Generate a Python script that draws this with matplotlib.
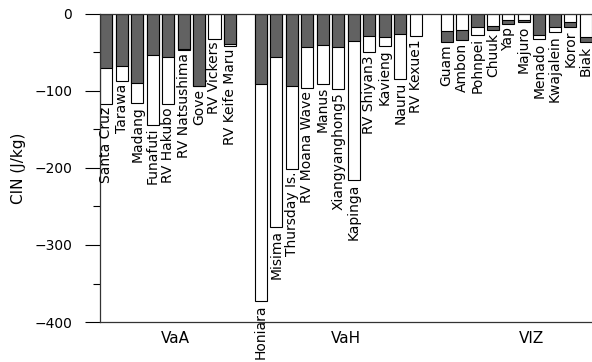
import matplotlib
matplotlib.use("Agg")
import matplotlib.pyplot as plt
import numpy as np

groups = ["VaA", "VaH", "VIZ"]
stations_vaa = ["Santa Cruz", "Tarawa", "Madang", "Funafuti", "RV Hakubo",
                "RV Natsushima", "Gove", "RV Vickers", "RV Keife Maru"]
dark_vaa = [-70, -67, -89, -53, -56, -45, -93, 0, -39]
white_vaa = [-117, -87, -116, -144, -117, -47, -94, -32, -41]

stations_vah = ["Honiara", "Misima", "Thursday Is.", "RV Moana Wave", "Manus",
                "Xiangyanghong5", "Kapinga", "RV Shiyan3", "Kavieng", "Nauru",
                "RV Kexue1"]
dark_vah = [-91, -56, -93, -43, -40, -43, -35, -28, -30, -26, 0]
white_vah = [-373, -277, -201, -96, -91, -98, -216, -50, -42, -84, -29]

stations_viz = ["Guam", "Ambon", "Pohnpei", "Chuuk", "Yap", "Majuro",
                "Menado", "Kwajalein", "Koror", "Biak"]
dark_viz = [-36, -34, -17, -21, -13, -11, -27, -17, -17, -37]
white_viz = [-22, -21, -27, -16, -8, -8, -33, -24, -10, -30]

group_label_pos = [4.5, 15.5, 27.5]
yticks = [0, -100, -200, -300, -400]

stations = []
darks = []
whites = []
pos = []
p = 0
for st, dk, wt in [(stations_vaa, dark_vaa, white_vaa),
                   (stations_vah, dark_vah, white_vah),
                   (stations_viz, dark_viz, white_viz)]:
    for s, d, w in zip(st, dk, wt):
        stations.append(s); darks.append(d); whites.append(w); pos.append(p)
        p += 1
    p += 1

fig = plt.figure(figsize=(5.92, 3.62), dpi=100)
ax = fig.add_axes([100/592, 1 - 322/362, 1 - 100/592, (322 - 14)/362])

width = 0.78
dark_col = "#626262"
for x, d, w, s in zip(pos, darks, whites, stations):
    bars = [(w, "white"), (d, dark_col)]
    bars.sort(key=lambda t: t[0])  # larger magnitude drawn first
    for val, col in bars:
        if val != 0:
            ax.bar(x, val, width=width, color=col, edgecolor="black",
                   linewidth=0.8, zorder=2)
    low = min(d, w)
    ax.text(x, low - 4, s, rotation=90, ha="center", va="top",
            fontsize=10, clip_on=False)

ax.set_xlim(-0.4, pos[-1] + 0.4)
ax.set_ylim(-400, 0)
ax.set_yticks(yticks)
ax.set_yticklabels([str(t) if t == 0 else "\u2212" + str(-t) for t in yticks])
ax.set_yticks(np.arange(-350, 0, 100), minor=True)
ax.tick_params(axis="y", which="major", length=11, width=0.8, labelsize=10, pad=9)
ax.tick_params(axis="y", which="minor", length=5, width=0.8)
ax.set_xticks([])
ax.spines["right"].set_visible(False)
for sp in ["left", "bottom", "top"]:
    ax.spines[sp].set_linewidth(0.9)
    ax.spines[sp].set_color("#333333")
ax.set_ylabel("CIN (J/kg)", fontsize=11, labelpad=6)

for g, gx in zip(groups, group_label_pos):
    ax.text(gx, -412, g, ha="center", va="top", fontsize=11,
            transform=ax.transData, clip_on=False)

fig.savefig("out.png", dpi=100)
